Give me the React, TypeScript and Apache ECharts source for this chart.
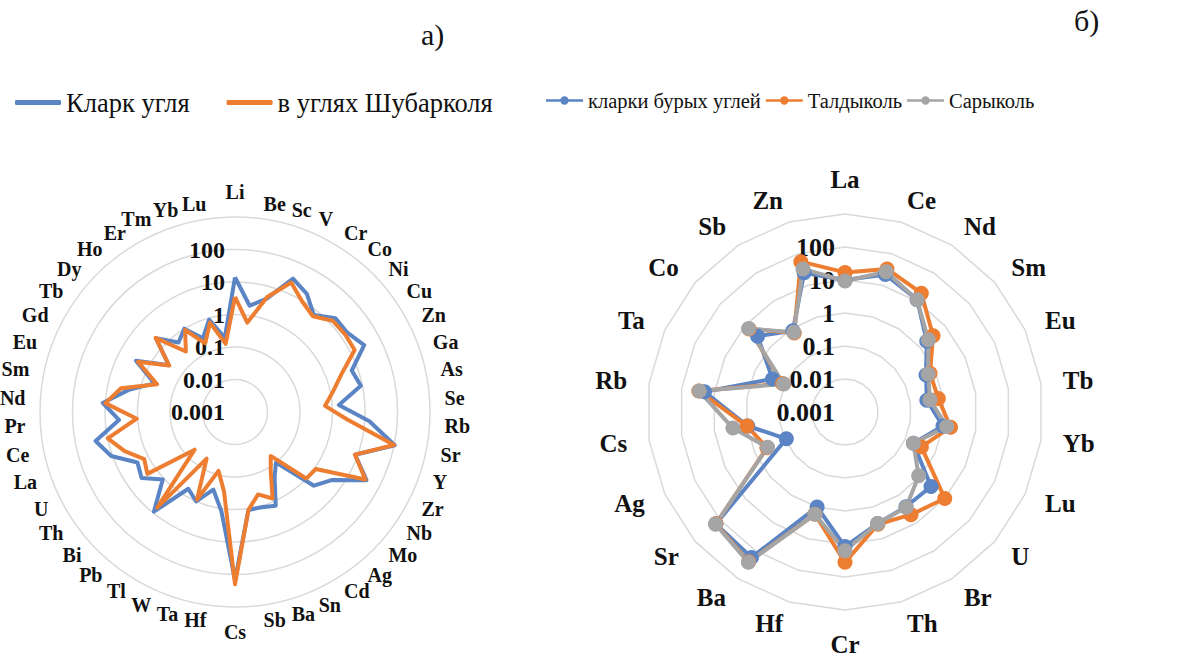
import React, { useEffect, useRef } from 'react';
import * as echarts from 'echarts';

// ---------- Left chart (а) ----------
const leftCategories = ['Li','Be','Sc','V','Cr','Co','Ni','Cu','Zn','Ga','As','Se','Rb','Sr','Y','Zr','Nb','Mo','Ag','Cd','Sn','Ba','Sb','Cs','Hf','Ta','W','Tl','Pb','Bi','Th','U','La','Ce','Pr','Nd','Sm','Eu','Gd','Tb','Dy','Ho','Er','Tm','Yb','Lu'];
const clarkCoal = [14, 2.0, 4.2, 30, 18, 7, 17, 17, 30, 6.5, 9, 1.6, 14, 105, 8.4, 36, 4.3, 2.1, 0.1, 0.22, 1.4, 1.1, 1.1, 150, 1.2, 0.3, 1.0, 0.58, 9, 1.1, 3.3, 2.4, 11, 24, 3.8, 12, 2.2, 0.43, 2.7, 0.31, 2.1, 0.57, 1.0, 0.3, 0.9, 0.2];
const shubarkol = [3.5, 0.6, 4.7, 22, 9.5, 6.3, 13, 14, 14, 3, 1.2, 0.6, 3, 100, 8.2, 33, 1.1, 1.0, 0.055, 0.13, 0.8, 0.43, 1.1, 200, 0.3, 0.076, 0.87, 0.048, 6.2, 0.05, 2.0, 1.4, 4, 10, 1.07, 10, 3.8, 0.35, 2.3, 0.3, 2.2, 0.25, 0.9, 0.2, 0.72, 0.13];

// ---------- Right chart (б) ----------
const rightCategories = ['La','Ce','Nd','Sm','Eu','Tb','Yb','Lu','U','Br','Th','Cr','Hf','Ba','Sr','Ag','Cs','Rb','Ta','Co','Sb','Zn'];
const clarkBrown = [10, 22, 11, 1.9, 0.5, 0.32, 1.0, 0.19, 2.8, 2.6, 3.3, 12, 1.0, 175, 150, 0.09, 0.95, 20, 0.26, 3.2, 0.84, 25];
const taldykol = [17, 33, 19, 3.4, 0.68, 0.72, 1.7, 0.35, 10, 5, 3.5, 36, 1.7, 250, 150, 0.4, 1.0, 30, 0.12, 7, 0.7, 56];
const sarykol = [9.3, 27, 11, 2.2, 0.59, 0.4, 1.3, 0.19, 0.9, 2.7, 3.3, 16, 1.7, 260, 155, 0.38, 2.7, 29, 0.11, 7.3, 0.74, 33];

const ringLabels = ['0.001', '0.01', '0.1', '1', '10', '100', ''];

const FONT = 'Liberation Serif';
const BLUE = '#5B84C4';
const ORANGE = '#ED7D31';
const GRAY = '#A5A5A5';
const LINE_DOT = 'path://M0,4.5H44V7.5H0Z M17,6A5,5 0 1 1 27,6A5,5 0 1 1 17,6Z';

// ECharts radar runs counter-clockwise; reorder so the chart reads clockwise
const cw = <T,>(a: T[]): T[] => [a[0], ...a.slice(1).reverse()];
const lg = (a: number[]) => cw(a.map((v) => Math.log10(v)));

function indicators(cats: string[]) {
  return cw(cats).map((name, i) =>
    i === 0 ? { name, min: -3, max: 3, axisLabel: { show: true } } : { name, min: -3, max: 3 }
  );
}

function radarBase(center: number[], radius: number, shape: string, nameSize: number, labelSize: number, nameGap: number) {
  return {
    center,
    radius,
    startAngle: 90,
    shape,
    splitNumber: 6,
    nameGap,
    axisName: { color: '#111', fontFamily: FONT, fontWeight: 'bold', fontSize: nameSize },
    splitLine: { lineStyle: { color: '#d9d9d9', width: 1.5 } },
    splitArea: { show: false },
    axisLine: { show: false },
    axisTick: { show: false },
    axisLabel: {
      show: false,
      formatter: (v: number) => ringLabels[Math.round(v) + 3] ?? '',
      color: '#111',
      fontFamily: FONT,
      fontWeight: 'bold',
      fontSize: labelSize,
      margin: 10,
    },
  };
}

const option: any = {
  animation: false,
  backgroundColor: '#fff',
  textStyle: { fontFamily: FONT },
  title: [
    { text: 'а)', left: 416, top: 14, textStyle: { fontFamily: FONT, fontWeight: 'normal', fontSize: 30, color: '#111' } },
    { text: 'б)', left: 1069, top: 0, textStyle: { fontFamily: FONT, fontWeight: 'normal', fontSize: 30, color: '#111' } },
  ],
  legend: [
    {
      data: ['Кларк угля', 'в углях Шубарколя'],
      left: 10,
      top: 84,
      icon: 'roundRect',
      itemWidth: 46,
      itemHeight: 5,
      itemGap: 37,
      selectedMode: false,
      textStyle: { fontFamily: FONT, fontSize: 26.5, color: '#111' },
    },
    {
      data: ['кларки бурых углей', 'Талдыколь', 'Сарыколь'],
      left: 541,
      top: 85,
      icon: LINE_DOT,
      itemWidth: 37,
      itemHeight: 11,
      itemGap: 5,
      selectedMode: false,
      textStyle: { fontFamily: FONT, fontSize: 20.5, color: '#111' },
    },
  ],
  radar: [
    { ...radarBase([235, 412], 195, 'circle', 20, 24, 15), indicator: indicators(leftCategories) },
    { ...radarBase([845, 412], 198, 'polygon', 25, 26, 22), indicator: indicators(rightCategories) },
  ],
  series: [
    {
      type: 'radar',
      radarIndex: 0,
      symbol: 'none',
      data: [
        { name: 'Кларк угля', value: lg(clarkCoal), lineStyle: { color: BLUE, width: 4 }, itemStyle: { color: BLUE } },
        { name: 'в углях Шубарколя', value: lg(shubarkol), lineStyle: { color: ORANGE, width: 4 }, itemStyle: { color: ORANGE } },
      ],
    },
    {
      type: 'radar',
      radarIndex: 1,
      symbol: 'circle',
      symbolSize: 15,
      data: [
        { name: 'кларки бурых углей', value: lg(clarkBrown), lineStyle: { color: BLUE, width: 4 }, itemStyle: { color: BLUE } },
        { name: 'Талдыколь', value: lg(taldykol), lineStyle: { color: ORANGE, width: 4 }, itemStyle: { color: ORANGE } },
        { name: 'Сарыколь', value: lg(sarykol), lineStyle: { color: GRAY, width: 4 }, itemStyle: { color: GRAY } },
      ],
    },
  ],
};

export default function App() {
  const ref = useRef<HTMLDivElement>(null);
  useEffect(() => {
    const chart = echarts.init(ref.current as HTMLDivElement, null, { renderer: 'svg' });
    chart.setOption(option);
    return () => chart.dispose();
  }, []);
  return (
    <div
      ref={ref}
      style={{ position: 'fixed', left: 0, top: 0, width: 1193, height: 659, background: '#fff' }}
    />
  );
}
